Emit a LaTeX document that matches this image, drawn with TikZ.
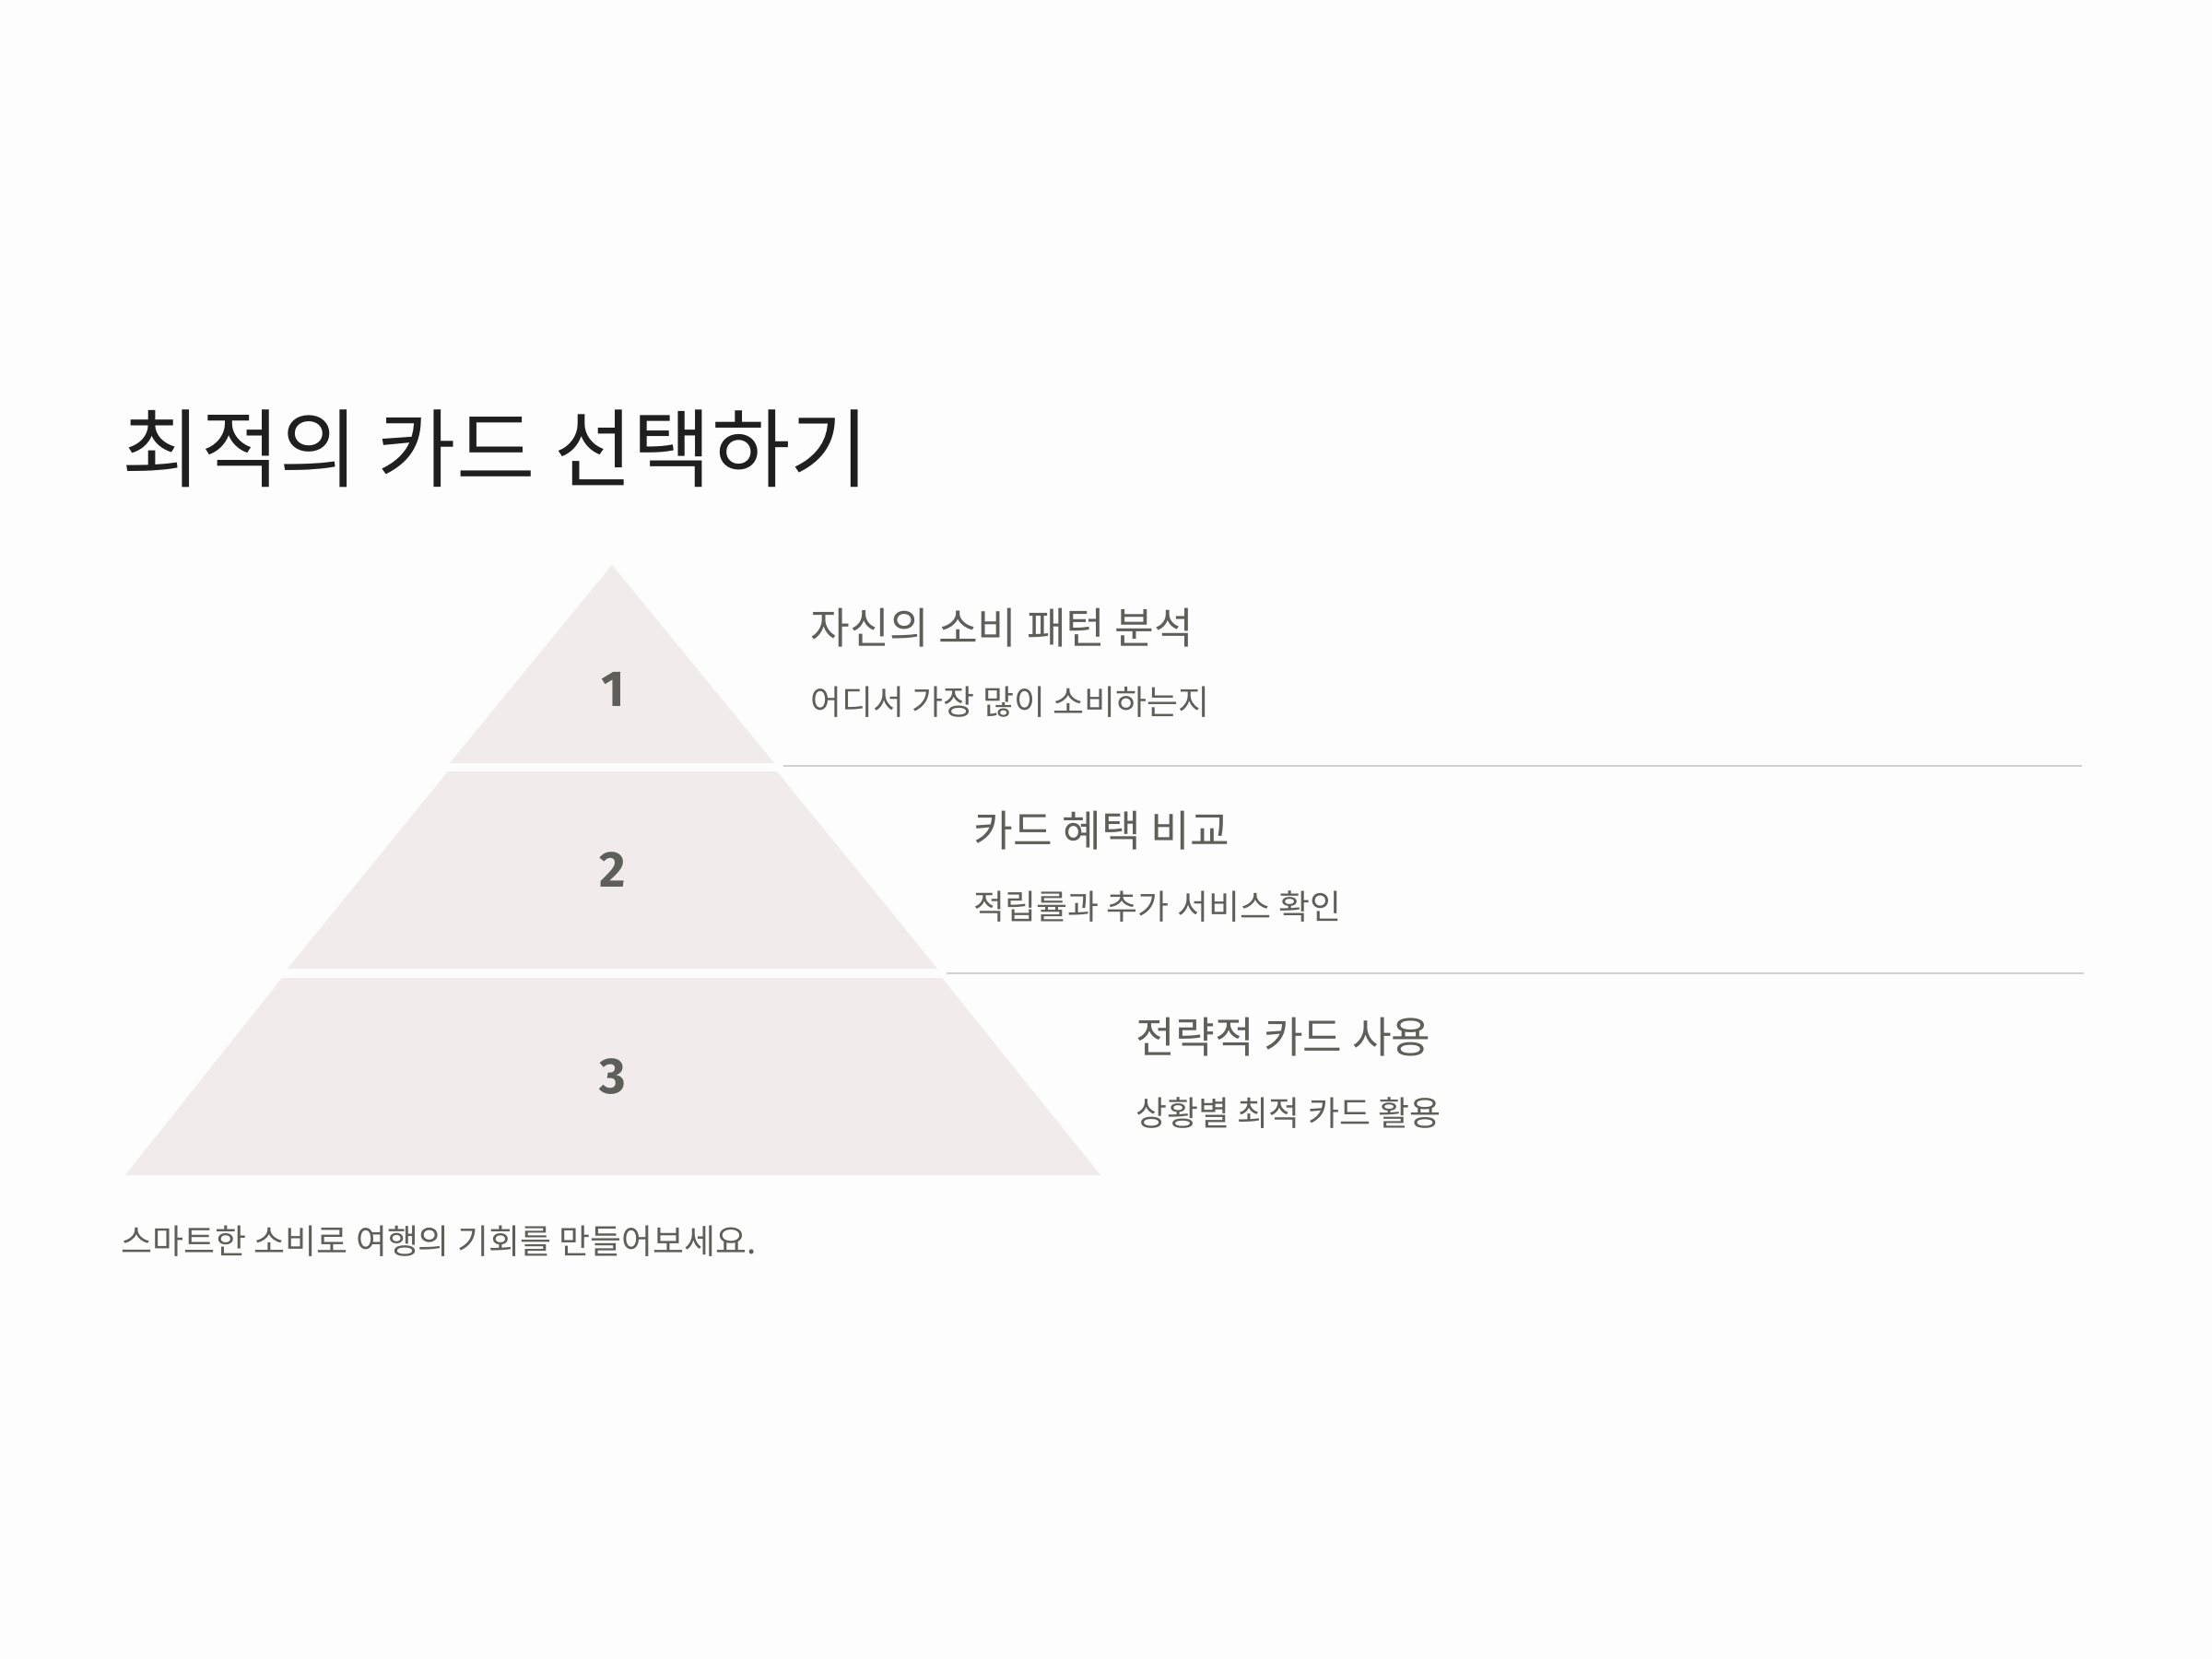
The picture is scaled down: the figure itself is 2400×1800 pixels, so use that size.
\documentclass[tikz,border=0pt]{standalone}
\usepackage{fontspec}
\setmainfont{Noto Sans CJK KR}
\newfontfamily\numfont{Fira Sans}
\definecolor{bgc}{HTML}{FDFDFD}
\definecolor{tierc}{HTML}{F1EBEB}
\definecolor{titlec}{HTML}{1F1F1F}
\definecolor{textc}{HTML}{5F5F5A}
\definecolor{rulec}{HTML}{D4D0D0}
\tikzset{
  px/.style={x=0.01cm,y=-0.01cm},
  tier/.style={fill=tierc},
  numlbl/.style={text=textc,font=\numfont\bfseries\fontsize{15.6}{18}\selectfont,inner sep=0pt},
  headlbl/.style={text=textc,font=\fontsize{13.2}{15}\selectfont,inner sep=0pt,anchor=west},
  sublbl/.style={text=textc,font=\fontsize{10.5}{12}\selectfont,inner sep=0pt,anchor=west},
  sep/.style={draw=rulec,line width=0.6pt}
}
\begin{document}
\begin{tikzpicture}[px]
\fill[bgc] (0,0) rectangle (2400,1800);
\useasboundingbox (0,0) rectangle (2400,1800);
% title
\node[text=titlec,font=\fontsize{26.4}{31}\selectfont,inner sep=0pt,anchor=west] (title) at (132,487) {최적의 카드 선택하기};
% pyramid tiers
\fill[tier] (664,613) -- (840,828) -- (488,828) -- cycle;
\fill[tier] (486,837) -- (843,837) -- (1017,1051) -- (312,1051) -- cycle;
\fill[tier] (306,1061) -- (1022,1061) -- (1194,1275) -- (136,1275) -- cycle;
\node[numlbl] (n1) at (665,748) {1};
\node[numlbl] (n2) at (665,944) {2};
\node[numlbl] (n3) at (665,1168) {3};
% separators
\coordinate (s1a) at (850,831); \coordinate (s1b) at (2259,831);
\coordinate (s2a) at (1027,1056); \coordinate (s2b) at (2261,1056);
\draw[sep] (s1a) -- (s1b);
\draw[sep] (s2a) -- (s2b);
% texts
\node[headlbl] (h1) at (879,681) {자신의 소비 패턴 분석};
\node[sublbl] (d1) at (879,762) {어디서 가장 많이 소비하는지};
\node[headlbl] (h2) at (1056,901) {카드 혜택 비교};
\node[sublbl] (d2) at (1056,984) {적립률과 추가 서비스 확인};
\node[headlbl] (h3) at (1232,1125) {전략적 카드 사용};
\node[sublbl] (d3) at (1232,1208) {상황별 최적 카드 활용};
\node[sublbl] (foot) at (131,1347) {스마트한 소비로 여행의 기회를 만들어보세요.};
\end{tikzpicture}
\end{document}
